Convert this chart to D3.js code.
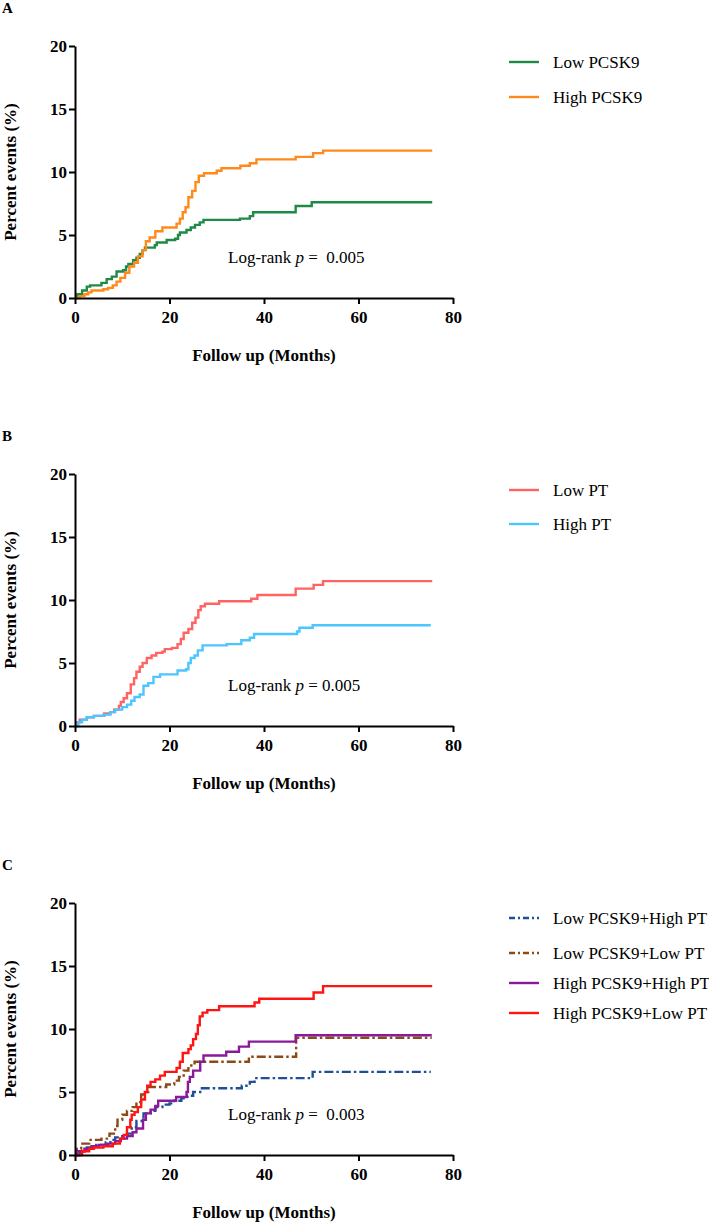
<!DOCTYPE html>
<html>
<head>
<meta charset="utf-8">
<script src="https://d3js.org/d3.v7.min.js"></script>
<style>
  body { margin: 0; background: #fff; }
  svg text { font-family: "Liberation Serif", "Tinos", "DejaVu Serif", "Times New Roman", Times, serif !important; }
</style>
</head>
<body>
<div id="chart"></div>
<script>

// tick values shared by the three panels
var xTicks = [0, 20, 40, 60, 80];
var yTicks = [0, 5, 10, 15, 20];

// cumulative events (%), [month, percent], step after
var lowPCSK9 = [[0,0],[0.5,0.3],[1.5,0.6],[2.5,0.9],[3.2,1.0],[5.6,1.2],[6.7,1.5],[7.8,1.7],[8.8,2.1],[10.2,2.2],[10.8,2.5],[11.3,2.7],[12.3,3.0],[13.0,3.2],[13.7,3.5],[14.3,3.8],[14.8,4.0],[16.9,4.2],[17.3,4.4],[19.4,4.6],[21.2,4.7],[21.8,5.0],[22.2,5.2],[23.6,5.4],[24.5,5.6],[25.4,5.8],[26.4,6.0],[27.2,6.2],[34.9,6.3],[37.0,6.5],[37.7,6.8],[46.7,7.3],[50.1,7.6],[75.6,7.6]];
var highPCSK9 = [[0,0],[1,0.15],[2,0.3],[2.8,0.45],[3.5,0.6],[6,0.7],[7,0.8],[8,1.0],[8.8,1.3],[9.6,1.6],[10.6,2.0],[11.5,2.5],[12.5,2.8],[13.3,3.3],[14.3,3.8],[15.0,4.5],[15.8,4.8],[17,5.3],[18.5,5.6],[21.5,5.9],[22.2,6.3],[22.8,6.8],[23.4,7.2],[24.0,8.0],[24.8,8.5],[25.5,9.2],[26.2,9.7],[27.3,9.9],[30,10.1],[31,10.3],[35,10.5],[37,10.7],[38.4,11.0],[46.7,11.2],[50.4,11.5],[52.5,11.7],[75.6,11.7]];

var lowPT = [[0,0],[0.5,0.3],[1,0.5],[2.5,0.7],[4,0.8],[6.2,1.0],[7.5,1.1],[8.3,1.3],[9.3,1.6],[9.7,1.9],[10.3,2.2],[11,2.6],[11.8,3.3],[12.5,3.8],[13,4.3],[13.7,4.7],[14.3,5.0],[15.2,5.4],[16.2,5.6],[17.2,5.8],[18.5,5.9],[19,6.1],[20.5,6.2],[21.7,6.5],[22.4,6.9],[23,7.4],[24,7.7],[24.8,8.2],[25.5,8.6],[26.1,9.2],[26.6,9.5],[27.5,9.7],[30.5,9.9],[37.3,10.1],[38.6,10.4],[46.7,10.9],[50.5,11.2],[52.5,11.5],[75.6,11.5]];
var highPT = [[0,0],[0.7,0.3],[1.5,0.5],[2.5,0.7],[4,0.8],[6,0.9],[7.5,1.1],[8.5,1.3],[10,1.5],[11,1.7],[11.9,2.0],[12.6,2.3],[13.7,2.5],[14.5,3.2],[15.5,3.4],[16.6,3.9],[18,4.1],[21.7,4.4],[23.5,4.5],[24,5.0],[24.5,5.4],[25.3,5.6],[26,6.0],[27,6.4],[32.1,6.5],[35.2,6.8],[37,7.0],[37.9,7.3],[47,7.5],[47.5,7.8],[50.3,8.0],[75.3,8.0]];

var lowPCSK9HighPT = [[0,0],[1,0.3],[2.5,0.6],[4.5,0.8],[6.5,1.0],[7.5,1.2],[8.5,1.4],[10,1.5],[11,1.7],[12,2.2],[13,2.7],[14.5,3.3],[16,3.5],[17,3.8],[18.5,4.0],[20,4.1],[21,4.3],[22.5,4.5],[23.8,4.7],[25,5.0],[26.5,5.3],[35.3,5.5],[37,5.8],[38,6.1],[50.3,6.6],[75.3,6.6]];
var lowPCSK9LowPT = [[0,0],[0.4,0.5],[1.3,0.9],[3,1.2],[5.6,1.3],[7.3,1.7],[8.5,2.3],[9,2.8],[10,3.2],[11,3.5],[12.2,3.8],[13,4.2],[14,4.8],[14.7,5.0],[15.5,5.4],[19.3,5.6],[21,5.9],[22,6.2],[23,6.7],[24,7.1],[25.3,7.4],[36.8,7.8],[46.8,9.3],[75.5,9.3]];
var highPCSK9HighPT = [[0,0],[0.5,0.3],[2,0.5],[3.5,0.7],[5,0.8],[7,0.9],[8.5,1.1],[9.7,1.3],[11,1.5],[12.2,1.8],[13,2.1],[14.4,2.8],[15,3.3],[16,3.6],[17,3.9],[17.6,4.3],[21.4,4.6],[23.6,5.0],[23.9,5.8],[24.3,6.2],[25,6.7],[26.5,7.4],[27.2,7.9],[32,8.2],[34.7,8.6],[36.8,9.0],[46.7,9.5],[75.5,9.5]];
var highPCSK9LowPT = [[0,0],[1.5,0.3],[3,0.5],[4,0.6],[6,0.7],[8,0.9],[9.5,1.3],[10.3,1.6],[11,2.2],[11.7,2.8],[12,3.2],[12.6,3.4],[13.3,3.8],[14,4.4],[14.8,5.0],[15.3,5.5],[16,5.8],[17,6.0],[18,6.3],[19,6.6],[21.5,6.9],[22.2,7.4],[22.8,8.1],[24,8.4],[24.5,8.7],[25,9.2],[25.6,9.6],[26,10.3],[26.4,11.0],[27,11.3],[28,11.5],[30.5,11.8],[38,12.1],[39,12.4],[50.5,12.9],[52.5,13.4],[75.6,13.4]];

// panel definitions
var panels = [
  { letter: "A", top: 46, pText: "Log-rank ", pVal: " =  0.005",
    series: [
      { name: "Low PCSK9", data: lowPCSK9, color: "#1e8a45", dash: null },
      { name: "High PCSK9", data: highPCSK9, color: "#ff8a1c", dash: null }
    ],
    legendY: [16, 51] },
  { letter: "B", top: 474, pText: "Log-rank ", pVal: " = 0.005",
    series: [
      { name: "Low PT", data: lowPT, color: "#ff6464", dash: null },
      { name: "High PT", data: highPT, color: "#4cc6ff", dash: null }
    ],
    legendY: [16, 50] },
  { letter: "C", top: 903, pText: "Log-rank ", pVal: " =  0.003",
    series: [
      { name: "Low PCSK9+High PT", data: lowPCSK9HighPT, color: "#1f4f96", dash: "9,3,2.5,3" },
      { name: "Low PCSK9+Low PT", data: lowPCSK9LowPT, color: "#8c4a14", dash: "9,3,2.5,3" },
      { name: "High PCSK9+High PT", data: highPCSK9HighPT, color: "#8a1a9b", dash: null },
      { name: "High PCSK9+Low PT", data: highPCSK9LowPT, color: "#ff1414", dash: null }
    ],
    legendY: [15, 50, 80, 110] }
];

var W = 709, H = 1223;
var left = 75, plotW = 378, plotH = 252;
var serif = "'Liberation Serif', 'Tinos', 'DejaVu Serif', serif";

var svg = d3.select("#chart")
  .append("svg")
    .attr("width", W)
    .attr("height", H)
    .attr("font-family", serif);

var x = d3.scaleLinear().domain([0, 80]).range([0, plotW]);
var y = d3.scaleLinear().domain([0, 20]).range([plotH, 0]);

var line = d3.line()
  .x(function(d) { return x(d[0]); })
  .y(function(d) { return y(d[1]); })
  .curve(d3.curveStepAfter);

panels.forEach(function(p) {

  // panel letter
  svg.append("text")
    .attr("x", 2).attr("y", p.top - 33)
    .style("font-size", "15px").style("font-weight", "bold")
    .text(p.letter);

  var g = svg.append("g")
    .attr("transform", "translate(" + left + "," + p.top + ")");

  // curves
  p.series.forEach(function(s) {
    g.append("path")
      .datum(s.data)
      .attr("d", line)
      .attr("fill", "none")
      .attr("stroke", s.color)
      .attr("stroke-width", 2.4)
      .attr("stroke-dasharray", s.dash);
  });

  // axes
  var xAxis = g.append("g")
    .attr("transform", "translate(0," + plotH + ")")
    .call(d3.axisBottom(x).tickValues(xTicks).tickSize(6).tickSizeOuter(0).tickPadding(7));
  var yAxis = g.append("g")
    .call(d3.axisLeft(y).tickValues(yTicks).tickSize(6).tickSizeOuter(0).tickPadding(2));

  [xAxis, yAxis].forEach(function(a) {
    a.attr("font-family", serif);
    a.select(".domain").attr("stroke", "#000").attr("stroke-width", 2);
    a.selectAll(".tick line").attr("stroke", "#000").attr("stroke-width", 2);
    a.selectAll(".tick text")
      .attr("fill", "#000")
      .style("font-size", "17px")
      .style("font-weight", "bold");
  });

  // axis titles
  g.append("text")
    .attr("transform", "translate(" + (10 - left) + "," + (plotH / 2) + ") rotate(-90)")
    .attr("text-anchor", "middle")
    .attr("dy", "0.35em")
    .style("font-size", "17px").style("font-weight", "bold")
    .text("Percent events (%)");

  g.append("text")
    .attr("x", plotW / 2)
    .attr("y", plotH + 63)
    .attr("text-anchor", "middle")
    .style("font-size", "17px").style("font-weight", "bold")
    .text("Follow up (Months)");

  // log-rank label
  var t = g.append("text")
    .attr("x", 153).attr("y", 217)
    .style("font-size", "17px")
    .style("white-space", "pre");
  t.append("tspan").text(p.pText);
  t.append("tspan").style("font-style", "italic").text("p");
  t.append("tspan").text(p.pVal);

  // legend
  p.series.forEach(function(s, i) {
    var ly = p.legendY[i];
    g.append("line")
      .attr("x1", 434).attr("x2", 464)
      .attr("y1", ly).attr("y2", ly)
      .attr("stroke", s.color)
      .attr("stroke-width", 2.4)
      .attr("stroke-dasharray", s.dash ? "6,3,2,3" : null);
    g.append("text")
      .attr("x", 478).attr("y", ly)
      .attr("dy", "0.35em")
      .style("font-size", "17px")
      .text(s.name);
  });
});

</script>
</body>
</html>
